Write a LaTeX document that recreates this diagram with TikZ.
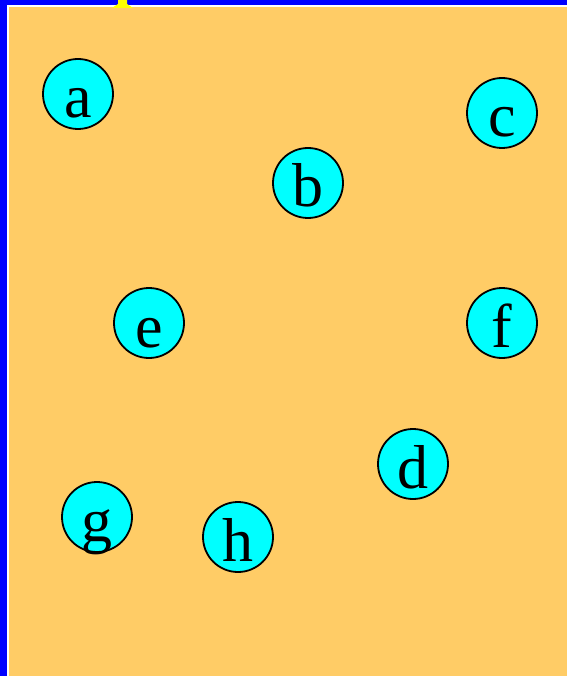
\documentclass[tikz,border=0pt]{standalone}
\usepackage{fontspec}
\setmainfont{Liberation Serif}
\definecolor{bgorange}{RGB}{255,204,102}
\definecolor{bordblue}{RGB}{0,0,255}
\definecolor{markyellow}{RGB}{255,255,0}
\definecolor{ballcyan}{RGB}{0,255,255}
\tikzset{
  ball/.style={circle, draw=black, line width=1.8pt, fill=ballcyan, minimum size=70pt,
    inner sep=0pt, text height=48pt, text depth=0pt,
    font=\fontsize{62}{62}\selectfont}
}
\begin{document}
\begin{tikzpicture}[x=1pt,y=-1pt]
\useasboundingbox (0,0) rectangle (567,676);
\fill[white] (0,0) rectangle (567,676);
\fill[bordblue] (0,0) rectangle (567,5);
\fill[bordblue] (0,0) rectangle (6.7,676);
\fill[bgorange] (9,7.3) rectangle (567,676);
\fill[markyellow] (118,0) -- (127,0) -- (127,4) -- (133,8) -- (112,8) -- (118,4) -- cycle;
\node[ball] (a) at (78,94) {a};
\node[ball] (c) at (502,113) {c};
\node[ball] (b) at (308,183) {b};
\node[ball] (e) at (149,323) {e};
\node[ball] (f) at (502,323) {f};
\node[ball] (d) at (413,464) {d};
\node[ball] (g) at (97,517) {g};
\node[ball] (h) at (238,537) {h};
\end{tikzpicture}
\end{document}
